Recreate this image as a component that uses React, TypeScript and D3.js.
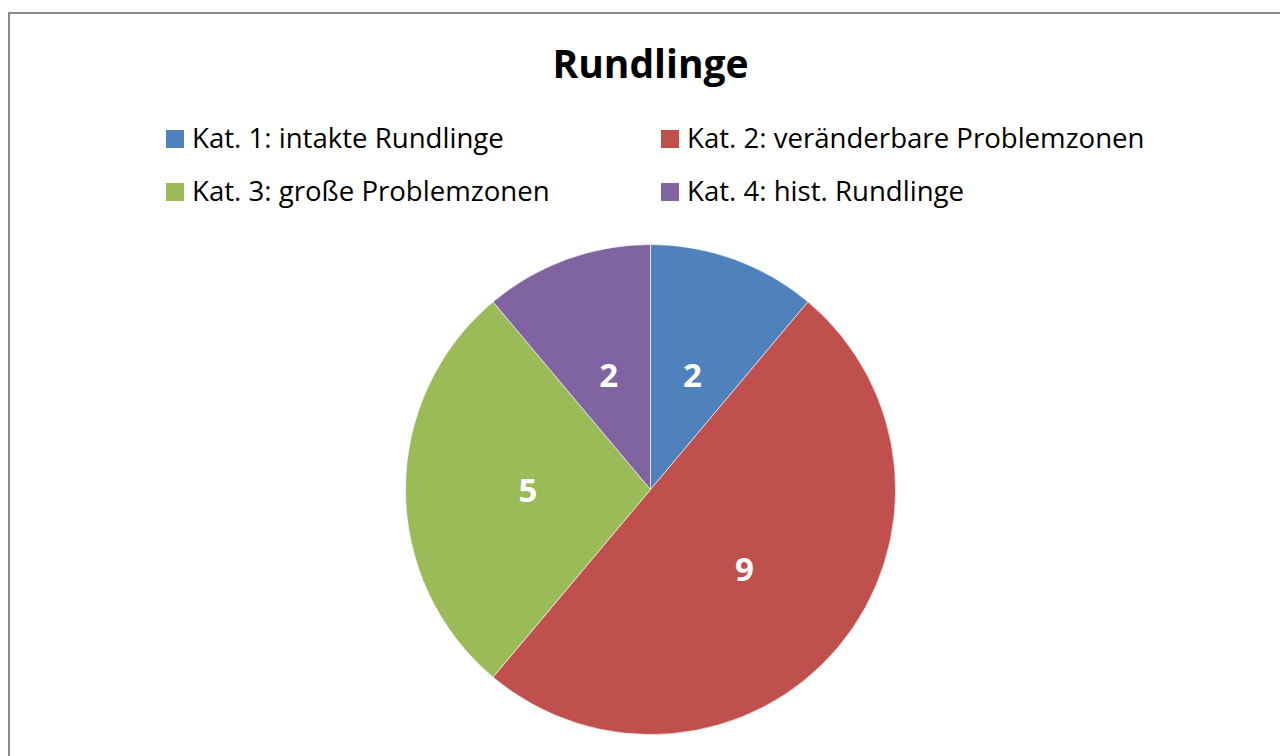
import React from "react";
import * as d3 from "d3";

const title = "Rundlinge";
const categories = [
  "Kat. 1: intakte Rundlinge",
  "Kat. 2: veränderbare Problemzonen",
  "Kat. 3: große Problemzonen",
  "Kat. 4: hist. Rundlinge",
];
const values = [2, 9, 5, 2];
const colors = ["#4F81BD", "#C0504D", "#9BBB59", "#8064A2"];

const width = 1280;
const height = 756;
const cx = 650.5;
const cy = 489.5;
const radius = 245;
const font = "'Open Sans', sans-serif";

// legend grid: two columns, two rows
const legendCols = [166, 661];
const legendRows = [148, 201];

const App = () => {
  const pie = d3
    .pie<number>()
    .sort(null)
    .value((d) => d);
  const arcs = pie(values);
  const arc = d3.arc<d3.PieArcDatum<number>>().innerRadius(0).outerRadius(radius);
  const labelArc = d3
    .arc<d3.PieArcDatum<number>>()
    .innerRadius(radius * 0.5)
    .outerRadius(radius * 0.5);

  return (
    <svg
      width={width}
      height={height}
      style={{ position: "absolute", left: 0, top: 0, background: "#fff" }}
    >
      <rect x={9} y={13} width={1400} height={900} fill="#fff" stroke="#8a8a8a" strokeWidth={2} />

      <text
        x={650.5}
        y={77.5}
        textAnchor="middle"
        fontFamily={font}
        fontWeight="bold"
        fontSize={39}
        fill="#000"
      >
        {title}
      </text>

      {categories.map((c, i) => {
        const x = legendCols[i % 2];
        const y = legendRows[Math.floor(i / 2)];
        return (
          <g key={c}>
            <rect x={x} y={y - 18} width={18} height={18} fill={colors[i]} />
            <text
              x={x + 26}
              y={y}
              fontFamily={font}
              fontSize={27.6}
              fill="#000"
            >
              {c}
            </text>
          </g>
        );
      })}

      <g transform={`translate(${cx},${cy})`}>
        {arcs.map((a, i) => (
          <path
            key={i}
            d={arc(a) || ""}
            fill={colors[i]}
            stroke="#ffffff"
            strokeOpacity={0.6}
            strokeWidth={1}
          />
        ))}
        {arcs.map((a, i) => {
          const [lx, ly] = labelArc.centroid(a);
          return (
            <text
              key={"l" + i}
              x={lx}
              y={ly}
              textAnchor="middle"
              dominantBaseline="central"
              fontFamily={font}
              fontWeight="bold"
              fontSize={33}
              fill="#fff"
            >
              {values[i]}
            </text>
          );
        })}
      </g>
    </svg>
  );
};

export default App;
